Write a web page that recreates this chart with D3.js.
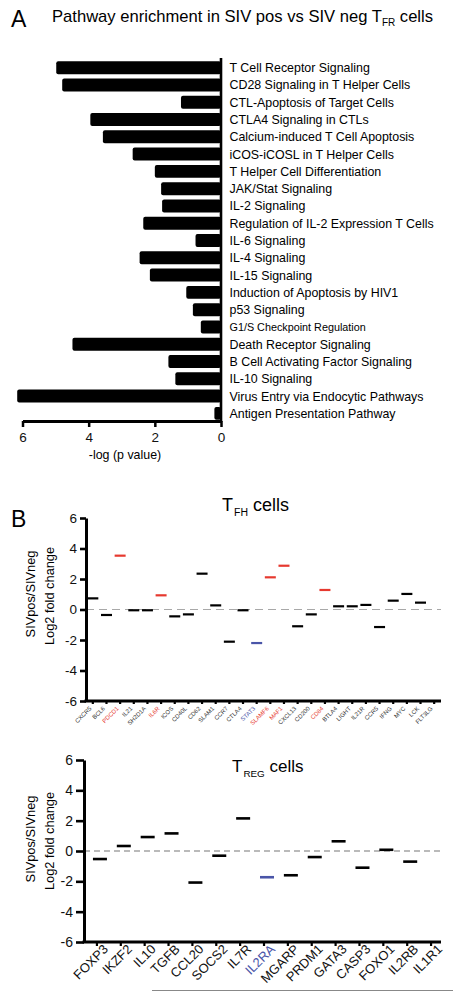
<!DOCTYPE html>
<html><head><meta charset="utf-8">
<script src="https://cdn.jsdelivr.net/npm/d3@7"></script>
<style>body{margin:0;background:#fff} svg{display:block;font-family:Arial,"Liberation Sans",sans-serif}</style>
</head><body>
<script>
const pathways = ["T Cell Receptor Signaling","CD28 Signaling in T Helper Cells","CTL-Apoptosis of Target Cells","CTLA4 Signaling in CTLs","Calcium-induced T Cell Apoptosis","iCOS-iCOSL in T Helper Cells","T Helper Cell Differentiation","JAK/Stat Signaling","IL-2 Signaling","Regulation of IL-2 Expression T Cells","IL-6 Signaling","IL-4 Signaling","IL-15 Signaling","Induction of Apoptosis by HIV1","p53 Signaling","G1/S Checkpoint Regulation","Death Receptor Signaling","B Cell Activating Factor Signaling","IL-10 Signaling","Virus Entry via Endocytic Pathways","Antigen Presentation Pathway"];
const pathwayValues = [4.98,4.80,1.21,3.95,3.57,2.67,2.0,1.81,1.78,2.35,0.77,2.46,2.15,1.05,0.85,0.61,4.49,1.59,1.38,6.16,0.2];
const pathwayTicks = [6,4,2,0];

const tfhGenes = ["CXCR5","BCL6","PDCD1","IL21","SH2D1A","IL6R","ICOS","CD40L","CD62","SLAM1","CCR7","CTLA4","STAT3","SLAMF6","MAF1","CXCL13","CD200","CD84","BTLA4","LIGHT","IL21R","CCR5","IFNG","MYC","LCK","FLT3LG"];
const tfhValues = [0.73,-0.36,3.53,-0.05,-0.05,0.93,-0.45,-0.32,2.35,0.27,-2.11,-0.05,-2.2,2.11,2.87,-1.1,-0.32,1.28,0.21,0.21,0.3,-1.15,0.58,1.02,0.45,null];
const tfhUp = ["PDCD1","IL6R","SLAMF6","MAF1","CD84"];
const tfhDown = ["STAT3"];

const tregGenes = ["FOXP3","IKZF2","IL10","TGFB","CCL20","SOCS2","IL7R","IL2RA","MGARP","PRDM1","GATA3","CASP3","FOXO1","IL2RB","IL1R1"];
const tregValues = [-0.53,0.33,0.92,1.16,-2.08,-0.31,2.15,-1.73,-1.6,-0.4,0.64,-1.1,0.08,-0.7,null];
const tregDown = ["IL2RA"];
const foldTicks = [6,4,2,0,-2,-4,-6];

const RED = "#e6392f", BLUE = "#4a55a8";
const W = 455, H = 991;
const svg = d3.select("body").append("svg").attr("width", W).attr("height", H);

// ---------- Panel A ----------
svg.append("text").attr("x", 11).attr("y", 27).attr("font-size", 23).text("A");
const title = svg.append("text").attr("x", 52).attr("y", 22).attr("font-size", 16.6);
title.append("tspan").text("Pathway enrichment in SIV pos vs SIV neg T");
title.append("tspan").attr("font-size", 10).attr("dy", 4).text("FR");
title.append("tspan").attr("dy", -4).text(" cells");

const xA = d3.scaleLinear().domain([6, 0]).range([22.5, 221]);
const yA = d3.scaleBand().domain(pathways).range([59, 422]).paddingInner(0.25).paddingOuter(0.125);

svg.append("g").selectAll("rect").data(pathways).join("rect")
  .attr("x", (d, i) => xA(pathwayValues[i]))
  .attr("y", d => yA(d))
  .attr("width", (d, i) => xA(0) - xA(pathwayValues[i]))
  .attr("height", yA.bandwidth())
  .attr("rx", 2).attr("fill", "#000");

svg.append("g").selectAll("text").data(pathways).join("text")
  .attr("x", 229.5)
  .attr("y", d => yA(d) + yA.bandwidth() / 2)
  .attr("dy", "0.36em")
  .attr("font-size", d => d.startsWith("G1/S") ? 10.8 : 12.4)
  .text(d => d);

// vertical axis line
svg.append("line").attr("x1", 221).attr("x2", 221).attr("y1", 58).attr("y2", 422)
  .attr("stroke", "#000").attr("stroke-width", 2.6);

const axA = svg.append("g").attr("transform", "translate(0,421)")
  .call(d3.axisBottom(xA).tickValues(pathwayTicks).tickSize(6).tickSizeOuter(0).tickFormat(d => String(d)));
axA.select(".domain").attr("stroke-width", 3);
axA.selectAll(".tick line").attr("stroke-width", 2.5);
axA.selectAll(".tick text").attr("font-size", 13.5).attr("font-family", "Arial,'Liberation Sans',sans-serif").attr("fill", "#111").attr("dy", "0.9em");

svg.append("text").attr("x", 125).attr("y", 459).attr("text-anchor", "middle").attr("font-size", 12.4).text("-log (p value)");

// ---------- Panel B ----------
svg.append("text").attr("x", 11).attr("y", 527).attr("font-size", 23).text("B");

function foldPanel(o) {
  const g = svg.append("g");
  const y = d3.scaleLinear().domain([-6, 6]).range([o.yBot, o.yTop]);
  const x = d3.scaleBand().domain(o.genes).range(o.xRange).padding(0);
  const cx = d => x(d) + x.bandwidth() / 2;

  // zero dashed line
  g.append("line").attr("x1", o.axisX).attr("x2", 441).attr("y1", y(0)).attr("y2", y(0))
    .attr("stroke", o.dashColor).attr("stroke-width", 1.2).attr("stroke-dasharray", o.dash);

  // y axis
  const ay = g.append("g").attr("transform", `translate(${o.axisX},0)`)
    .call(d3.axisLeft(y).tickValues(foldTicks).tickSize(o.tickLen).tickSizeOuter(0).tickFormat(d => String(d)));
  ay.select(".domain").attr("stroke-width", 3);
  ay.selectAll(".tick line").attr("stroke-width", 2.6);
  ay.selectAll(".tick text").attr("font-size", o.tickFont).attr("font-family", "Arial,'Liberation Sans',sans-serif").attr("fill", "#111").attr("x", -o.tickLen - 3);

  // x axis
  g.append("line").attr("x1", o.axisX - 1.5).attr("x2", 441).attr("y1", o.yBot).attr("y2", o.yBot)
    .attr("stroke", "#000").attr("stroke-width", 3);
  g.append("g").selectAll("line").data(o.genes).join("line")
    .attr("x1", d => cx(d) + o.tickShift).attr("x2", d => cx(d) + o.tickShift)
    .attr("y1", o.yBot).attr("y2", o.yBot + o.xTickLen)
    .attr("stroke", "#000").attr("stroke-width", 2.2);

  // x labels
  g.append("g").selectAll("text").data(o.genes).join("text")
    .attr("transform", d => `translate(${cx(d) + o.labDx},${o.yBot + o.labDy}) rotate(-45)`)
    .attr("text-anchor", "end")
    .attr("font-size", o.labFont)
    .attr("fill", d => o.up.includes(d) ? RED : (o.down.includes(d) ? BLUE : o.labColor))
    .text(d => d);

  // marks
  g.append("g").selectAll("line").data(o.genes.filter((d, i) => o.values[i] !== null)).join("line")
    .attr("x1", d => cx(d) - o.markW / 2).attr("x2", d => cx(d) + o.markW / 2)
    .attr("y1", d => y(o.values[o.genes.indexOf(d)])).attr("y2", d => y(o.values[o.genes.indexOf(d)]))
    .attr("stroke", d => o.up.includes(d) ? RED : (o.down.includes(d) ? BLUE : "#000"))
    .attr("stroke-width", o.markS);

  // y labels
  g.append("text").attr("transform", `translate(34.5,${o.labCy}) rotate(-90)`).attr("text-anchor", "middle")
    .attr("font-size", 12.8).text("SIVpos/SIVneg");
  g.append("text").attr("transform", `translate(53.5,${o.labCy + 2}) rotate(-90)`).attr("text-anchor", "middle")
    .attr("font-size", 12.8).text("Log2 fold change");

  // title
  const t = g.append("text").attr("x", o.titleX).attr("y", o.titleY).attr("font-size", o.titleFont);
  t.append("tspan").text("T");
  t.append("tspan").attr("font-size", o.titleFont * 0.58).attr("dy", 5).attr("dx", 1).text(o.sub);
  t.append("tspan").attr("dy", -5).text(" cells");
}

foldPanel({
  genes: tfhGenes, values: tfhValues, up: tfhUp, down: tfhDown,
  yTop: 518, yBot: 701, xRange: [86, 441], axisX: 86,
  dash: "8,5", dashColor: "#a8a8a8", tickLen: 6, tickFont: 13.5, xTickLen: 3, tickShift: 0,
  labDx: -1, labDy: 8, labFont: 6, labColor: "#333",
  markW: 11, markS: 2.2, labCy: 594,
  titleX: 222, titleY: 511, titleFont: 18, sub: "FH"
});

foldPanel({
  genes: tregGenes, values: tregValues, up: [], down: tregDown,
  yTop: 760, yBot: 942, xRange: [88, 446], axisX: 84,
  dash: "6,4", dashColor: "#777", tickLen: 8, tickFont: 14, xTickLen: 4, tickShift: -3,
  labDx: 9, labDy: 8, labFont: 13, labColor: "#111",
  markW: 14, markS: 2.6, labCy: 839,
  titleX: 232, titleY: 772, titleFont: 17, sub: "REG"
});

// decorative rule at page bottom
svg.append("line").attr("x1", 152).attr("x2", 453).attr("y1", 990.5).attr("y2", 990.5)
  .attr("stroke", "#888").attr("stroke-width", 1.2);
</script>
</body></html>
